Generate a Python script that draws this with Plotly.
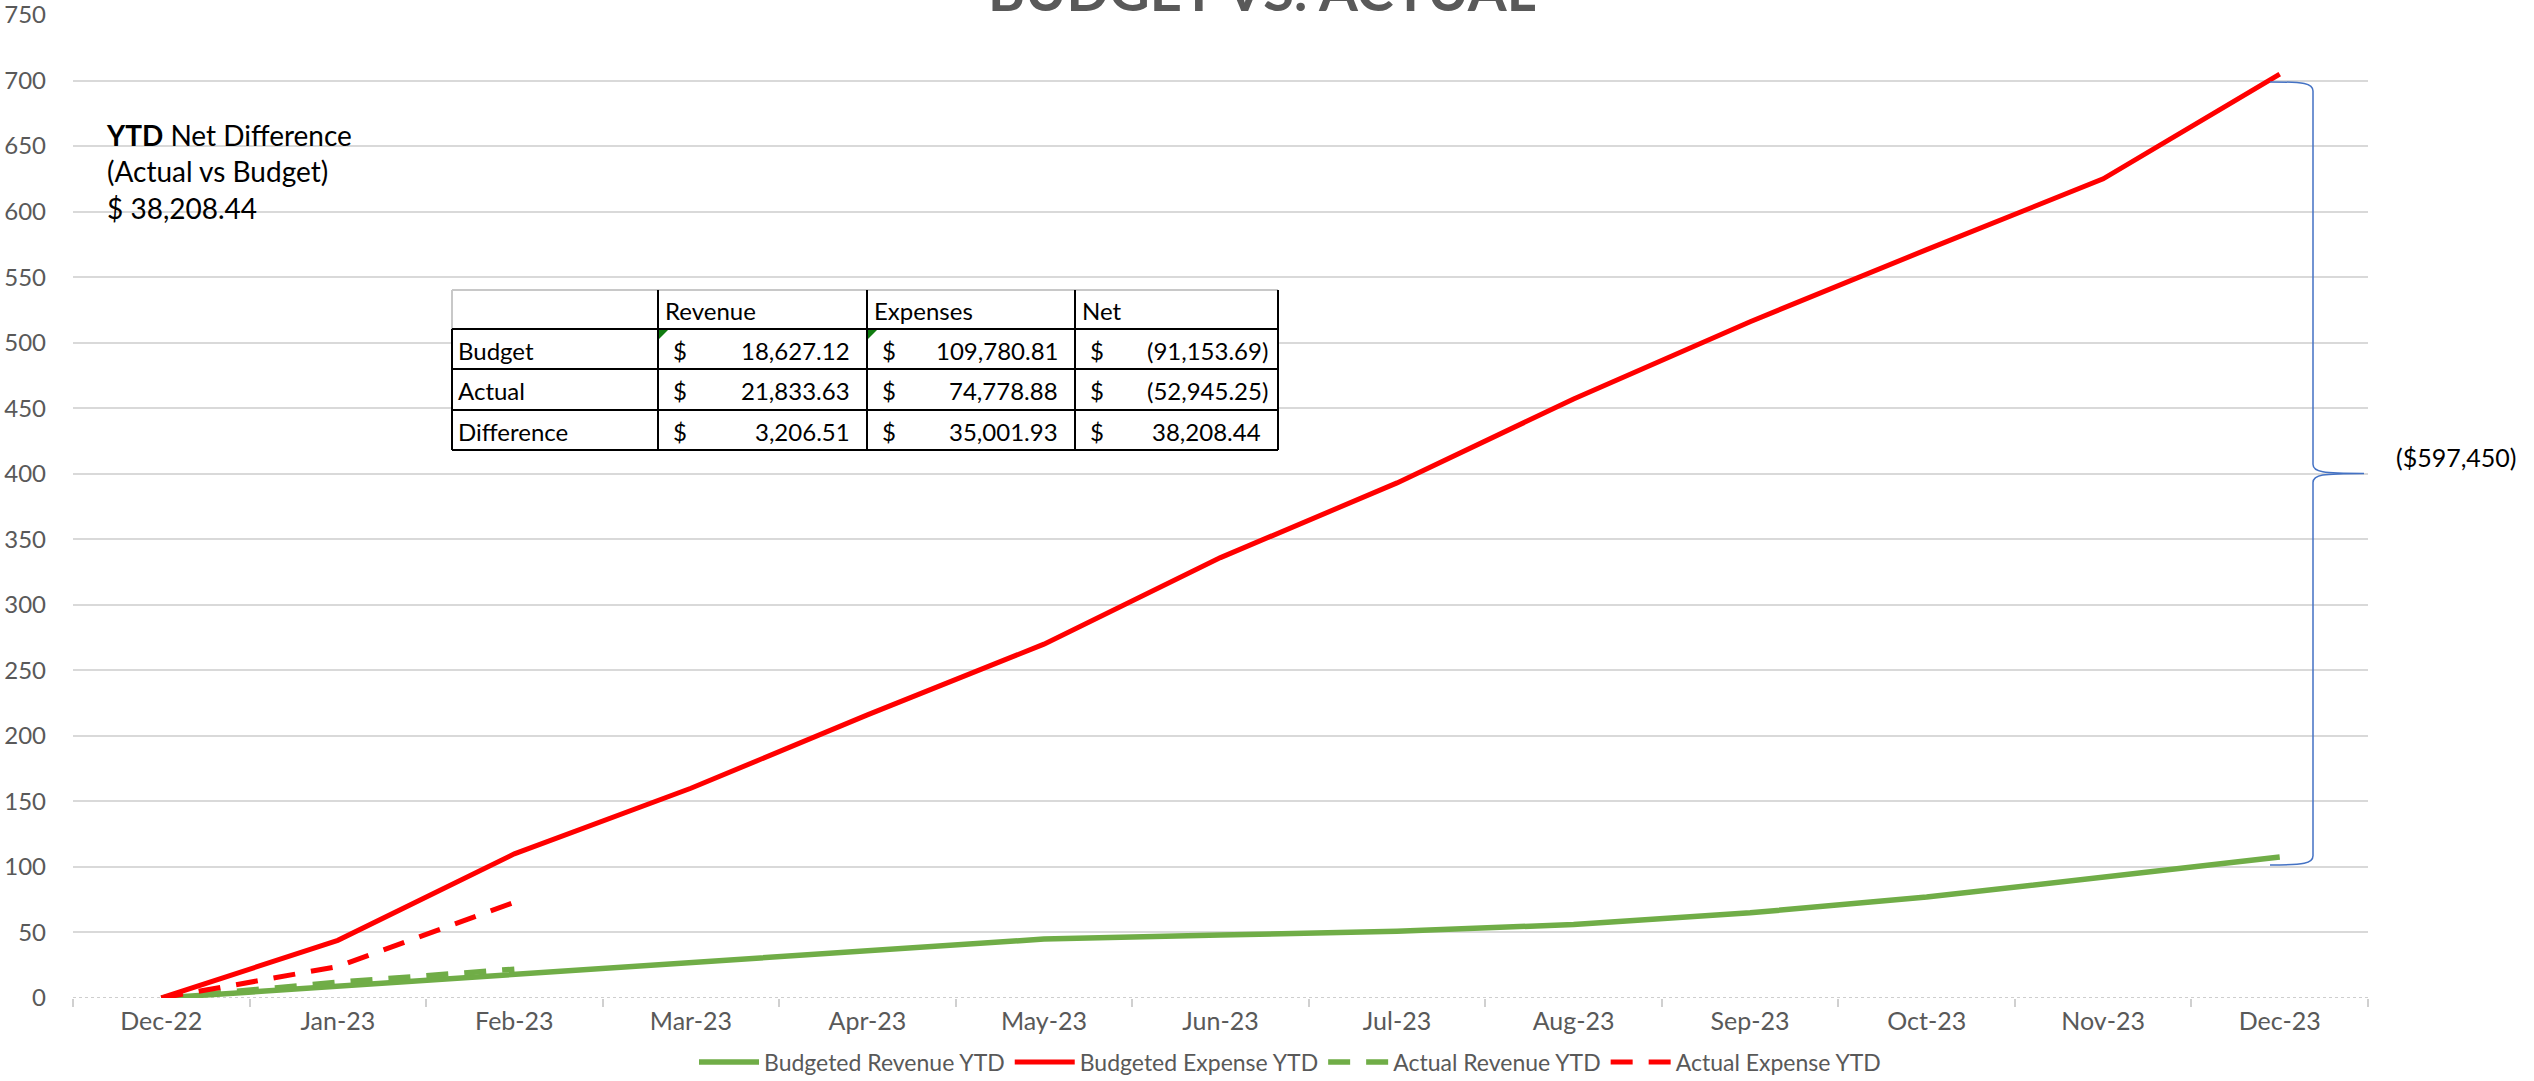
import plotly.graph_objects as go

# months on the category axis
months = ["Dec-22", "Jan-23", "Feb-23", "Mar-23", "Apr-23", "May-23", "Jun-23",
          "Jul-23", "Aug-23", "Sep-23", "Oct-23", "Nov-23", "Dec-23"]

# YTD series (thousands)
budget_revenue = [0, 9, 19, 28, 37, 45, 48, 51, 56, 65, 77, 92, 107.5]
budget_expense = [0, 44, 110, 160, 216, 270, 336, 393, 457, 516, 571, 625, 704.95]
actual_revenue = [0, 12, 22]
actual_expense = [0, 24, 73]

y_ticks = list(range(0, 751, 50))

# summary table
table_cols = ["Revenue", "Expenses", "Net"]
table_rows = ["Budget", "Actual", "Difference"]
revenue_vals = [18627.12, 21833.63, 3206.51]
expense_vals = [109780.81, 74778.88, 35001.93]
net_vals = [-91153.69, -52945.25, 38208.44]

ytd_net = 38208.44
gap_label = "($597,450)"

GREEN = "#70AD47"
RED = "#FF0000"
GREY = "#595959"
GRID = "#D9D9D9"
FONT = "Lato"

W, H = 2534, 1081
L, R, T, B = 73, 2368, 15, 998


def px_x(px):
    return (px - L) / (R - L)


def px_y(py):
    return (B - py) / (B - T)


def money(v):
    if v < 0:
        return "({:,.2f})".format(-v)
    return "{:,.2f}".format(v)


fig = go.Figure()

fig.add_trace(go.Scatter(x=months, y=budget_revenue, mode="lines", name="Budgeted Revenue YTD",
                         line=dict(color=GREEN, width=5.5)))
fig.add_trace(go.Scatter(x=months, y=budget_expense, mode="lines", name="Budgeted Expense YTD",
                         line=dict(color=RED, width=5)))
fig.add_trace(go.Scatter(x=months[:len(actual_revenue)], y=actual_revenue, mode="lines",
                         name="Actual Revenue YTD",
                         line=dict(color=GREEN, width=5.5, dash="22px,16px")))
fig.add_trace(go.Scatter(x=months[:len(actual_expense)], y=actual_expense, mode="lines",
                         name="Actual Expense YTD",
                         line=dict(color=RED, width=5, dash="22px,16px")))

shapes = []
annotations = []

# dotted axis line at zero
shapes.append(dict(type="line", xref="paper", yref="y", x0=0, x1=1, y0=0, y1=0,
                   line=dict(color="#BFBFBF", width=1.5, dash="dot"), layer="below"))

# brace between the year-end budget values
top = budget_expense[-1] - 6
bot = budget_revenue[-1] - 6
mid = (top + bot) / 2
xs, xv, xt = px_x(2270), px_x(2313), px_x(2364)
c = 7
brace = (f"M {xs},{top} C {xv - 0.004},{top} {xv},{top - 1} {xv},{top - c} "
         f"L {xv},{mid + c} C {xv},{mid + 1} {xv + 0.004},{mid} {xt},{mid} "
         f"M {xt},{mid} C {xv + 0.004},{mid} {xv},{mid - 1} {xv},{mid - c} "
         f"L {xv},{bot + c} C {xv},{bot + 1} {xv - 0.004},{bot} {xs},{bot}")
shapes.append(dict(type="path", xref="paper", yref="y", path=brace,
                   line=dict(color="#4472C4", width=1.5)))
annotations.append(dict(x=px_x(2394), y=mid, xref="paper", yref="y", text=gap_label,
                        showarrow=False, xanchor="left", yanchor="middle", yshift=16,
                        font=dict(family=FONT, size=25, color="#000000")))

# title, cut by the top edge
annotations.append(dict(x=px_x(1262), y=px_y(-11), xref="paper", yref="paper",
                        text="<b>BUDGET VS. ACTUAL</b>", showarrow=False,
                        xanchor="center", yanchor="middle",
                        font=dict(family=FONT, size=56, color=GREY)))

# YTD net difference text box
annotations.append(dict(x=px_x(104), y=px_y(172), xref="paper", yref="paper",
                        text=("<b>YTD</b> Net Difference<br>(Actual vs Budget)<br>"
                              "$ {:,.2f}".format(ytd_net)),
                        showarrow=False, xanchor="left", yanchor="middle", align="left",
                        font=dict(family=FONT, size=28, color="#000000")))

# summary table drawn with shapes and text
col_x = [452, 658, 867, 1075, 1278]
row_y = [290, 329, 369, 410, 450]
shapes.append(dict(type="rect", xref="paper", yref="paper",
                   x0=px_x(col_x[0]), x1=px_x(col_x[-1]), y0=px_y(row_y[0]), y1=px_y(row_y[-1]),
                   fillcolor="white", line=dict(width=0), layer="above"))
shapes.append(dict(type="line", xref="paper", yref="paper",
                   x0=px_x(col_x[0]), x1=px_x(col_x[-1]), y0=px_y(row_y[0]), y1=px_y(row_y[0]),
                   line=dict(color="#C8C8C8", width=2), layer="above"))
shapes.append(dict(type="line", xref="paper", yref="paper",
                   x0=px_x(col_x[0]), x1=px_x(col_x[0]), y0=px_y(row_y[0]), y1=px_y(row_y[1]),
                   line=dict(color="#C8C8C8", width=2), layer="above"))
shapes.append(dict(type="line", xref="paper", yref="paper",
                   x0=px_x(col_x[0]), x1=px_x(col_x[0]), y0=px_y(row_y[1]), y1=px_y(row_y[-1]),
                   line=dict(color="#000000", width=2), layer="above"))
for cx in col_x[1:]:
    shapes.append(dict(type="line", xref="paper", yref="paper",
                       x0=px_x(cx), x1=px_x(cx), y0=px_y(row_y[0]), y1=px_y(row_y[-1]),
                       line=dict(color="#000000", width=2), layer="above"))
for ry in row_y[1:]:
    shapes.append(dict(type="line", xref="paper", yref="paper",
                       x0=px_x(col_x[0]), x1=px_x(col_x[-1]), y0=px_y(ry), y1=px_y(ry),
                       line=dict(color="#000000", width=2), layer="above"))
# green error markers in the budget cells
for cx in col_x[1:3]:
    x0, y0 = px_x(cx + 1), px_y(row_y[1] + 1)
    x1, y1 = px_x(cx + 10), px_y(row_y[1] + 10)
    shapes.append(dict(type="path", xref="paper", yref="paper",
                       path=f"M {x0},{y0} L {x1},{y0} L {x0},{y1} Z",
                       fillcolor="#107C10", line=dict(width=0), layer="above"))

tfont = dict(family=FONT, size=24, color="#000000")
for j, name in enumerate(table_cols):
    annotations.append(dict(x=px_x(col_x[j + 1] + 5), y=px_y((row_y[0] + row_y[1]) / 2 + 1),
                            xref="paper", yref="paper", text=name, showarrow=False,
                            xanchor="left", yanchor="middle", font=tfont))
columns = [revenue_vals, expense_vals, net_vals]
for i, name in enumerate(table_rows):
    cy = px_y((row_y[i + 1] + row_y[i + 2]) / 2 + 1)
    annotations.append(dict(x=px_x(col_x[0] + 4), y=cy, xref="paper", yref="paper", text=name,
                            showarrow=False, xanchor="left", yanchor="middle", font=tfont))
    for j, vals in enumerate(columns):
        v = vals[i]
        annotations.append(dict(x=px_x(col_x[j + 1] + 13), y=cy, xref="paper", yref="paper",
                                text="$", showarrow=False, xanchor="left", yanchor="middle",
                                font=tfont))
        right = col_x[j + 2] - (8 if v < 0 else 15)
        annotations.append(dict(x=px_x(right), y=cy, xref="paper", yref="paper",
                                text=money(v), showarrow=False, xanchor="right",
                                yanchor="middle", font=tfont))

fig.update_layout(
    width=W, height=H,
    margin=dict(l=L, r=W - R, t=T, b=H - B, pad=0, autoexpand=False),
    paper_bgcolor="white", plot_bgcolor="white",
    font=dict(family=FONT, color=GREY),
    showlegend=True,
    legend=dict(orientation="h", x=px_x(1290), xanchor="center", y=px_y(1062),
                yanchor="middle", font=dict(family=FONT, size=23, color=GREY),
                itemwidth=60, tracegroupgap=0),
    shapes=shapes,
    annotations=annotations,
)
fig.update_xaxes(type="category", range=[-0.5, len(months) - 0.5], showgrid=False,
                 zeroline=False, showline=False, ticks="outside", tickson="boundaries",
                 ticklen=8, tickcolor="#D0D0D0", tickwidth=1.5, automargin=False,
                 tickfont=dict(family=FONT, size=25, color=GREY), ticklabelstandoff=6)
fig.update_yaxes(range=[0, 750], tickvals=y_ticks, showgrid=True, gridcolor=GRID, gridwidth=1.5,
                 zeroline=False, showline=False, ticks="", automargin=False,
                 ticklabeloverflow="allow",
                 tickfont=dict(family=FONT, size=24, color=GREY), ticklabelstandoff=26)

fig.write_html("out.html", config={"displayModeBar": False},
               post_script="document.body.style.margin='0';")
